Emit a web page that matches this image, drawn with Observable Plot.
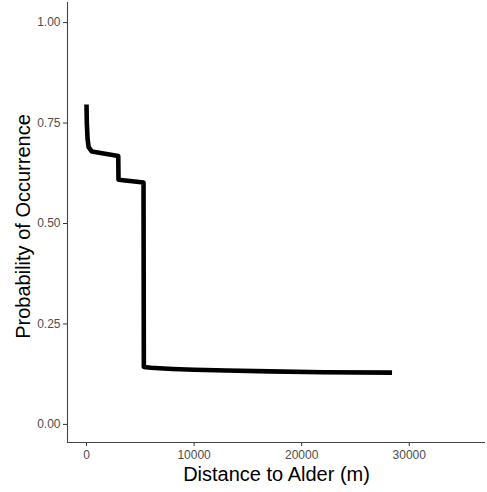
<!DOCTYPE html>
<html>
<head>
<meta charset="utf-8">
<script src="https://cdn.jsdelivr.net/npm/d3@7"></script>
<script src="https://cdn.jsdelivr.net/npm/@observablehq/plot@0.6"></script>
<style>
  html, body { margin: 0; padding: 0; background: #fff; }
  #chart svg { display: block; }
</style>
</head>
<body>
<div id="chart"></div>
<script>
// Data
const distance = [0, 30, 100, 200, 500, 2950, 2975, 5300, 5330, 6000, 8000, 10000, 13000, 17000, 22000, 28400];
const probability = [0.796, 0.75, 0.71, 0.69, 0.679, 0.668, 0.609, 0.602, 0.143, 0.141, 0.138, 0.136, 0.134, 0.132, 0.130, 0.129];
const xTicks = [0, 10000, 20000, 30000];
const yTicks = [0, 0.25, 0.5, 0.75, 1];
const xTitle = "Distance to Alder (m)";
const yTitle = "Probability of Occurrence";

const xDomain = [-1766, 37086];
const yDomain = [-0.045, 1.05];

const data = distance.map((d, i) => ({distance: d, probability: probability[i]}));

const font = "'Liberation Sans', Arial, sans-serif";

const chart = Plot.plot({
  width: 487,
  height: 492,
  marginLeft: 67,
  marginRight: 2,
  marginTop: 2,
  marginBottom: 50,
  style: {fontFamily: font, background: "#fff"},
  x: {domain: xDomain, axis: null},
  y: {domain: yDomain, axis: null},
  marks: [
    Plot.axisY(yTicks, {
      anchor: "left",
      tickSize: 4,
      tickPadding: 3,
      stroke: "#333",
      fill: "#4D4D4D",
      fontSize: 12,
      tickFormat: d3.format(".2f"),
      label: null
    }),
    Plot.axisX(xTicks, {
      anchor: "bottom",
      tickSize: 4,
      tickPadding: 4,
      stroke: "#333",
      fill: "#4D4D4D",
      fontSize: 12,
      tickFormat: d => String(d),
      label: null
    }),
    Plot.ruleX([xDomain[0]], {stroke: "#444", strokeWidth: 1.1}),
    Plot.ruleY([yDomain[0]], {stroke: "#444", strokeWidth: 1.1}),
    Plot.line(data, {
      x: "distance",
      y: "probability",
      stroke: "black",
      strokeWidth: 4.6,
      strokeLinejoin: "round",
      strokeLinecap: "butt"
    }),
    Plot.text([xTitle], {
      frameAnchor: "bottom",
      textAnchor: "middle",
      lineAnchor: "bottom",
      dy: 38,
      fontSize: 20,
      fill: "black"
    }),
    Plot.text([yTitle], {
      frameAnchor: "left",
      textAnchor: "middle",
      lineAnchor: "bottom",
      rotate: -90,
      dx: -38,
      dy: 4,
      fontSize: 20,
      fill: "black"
    })
  ]
});

document.getElementById("chart").appendChild(chart);
</script>
</body>
</html>
